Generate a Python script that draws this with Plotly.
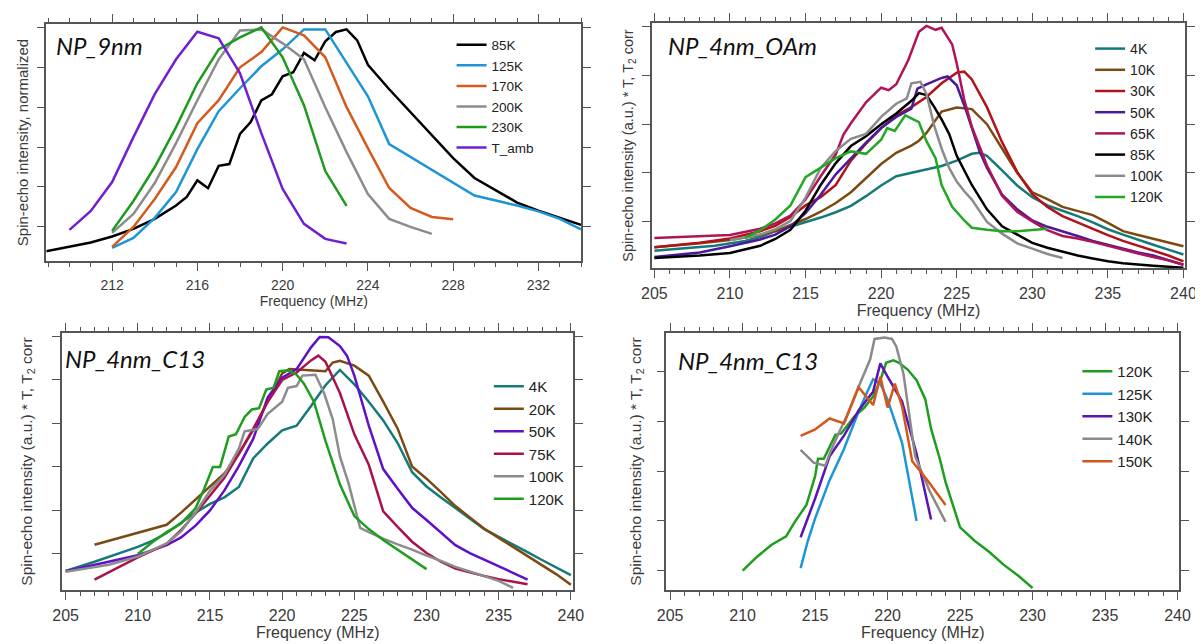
import plotly.graph_objects as go

W, H = 1203, 644

# ---------------- Panel 1 : NP_9nm (normalized) ----------------
p1_names = ["85K", "125K", "170K", "200K", "230K", "T_amb"]
p1_colors = ["#000000", "#1e96d4", "#d45a1e", "#8c8c8c", "#1e9a1e", "#7020d0"]
p1_85K_f = [208.9, 210, 211, 212, 213, 214, 215, 215.5, 216, 216.5, 217, 217.5, 218, 218.5,
            219, 219.5, 220, 220.5, 221, 221.5, 222, 222.5, 223, 223.5, 224, 225, 226, 227,
            228, 229, 230, 231, 232, 233, 234]
p1_85K_y = [-0.122, -0.1, -0.078, -0.048, -0.01, 0.04, 0.107, 0.15, 0.233, 0.194, 0.306, 0.315,
            0.466, 0.525, 0.634, 0.665, 0.755, 0.775, 0.872, 0.835, 0.93, 0.977, 0.99, 0.935,
            0.813, 0.69, 0.575, 0.455, 0.345, 0.245, 0.185, 0.122, 0.081, 0.044, 0.01]
p1_125K_f = list(range(212, 235))
p1_125K_y = [-0.105, -0.055, 0.045, 0.175, 0.39, 0.58, 0.695, 0.805, 0.89, 0.99, 0.99, 0.825,
             0.655, 0.415, 0.35, 0.283, 0.22, 0.157, 0.132, 0.107, 0.078, 0.04, -0.012]
p1_170K_f = list(range(212, 229))
p1_170K_y = [-0.1, 0.0, 0.14, 0.3, 0.52, 0.635, 0.8, 0.876, 1.0, 0.96, 0.85, 0.6, 0.395, 0.195,
             0.095, 0.05, 0.038]
p1_200K_f = list(range(212, 228))
p1_200K_y = [-0.03, 0.065, 0.22, 0.42, 0.635, 0.84, 0.985, 0.99, 0.92, 0.84, 0.6, 0.375, 0.165,
             0.04, 0.0, -0.035]
p1_230K_f = list(range(212, 224))
p1_230K_y = [-0.02, 0.13, 0.3, 0.5, 0.72, 0.89, 0.95, 1.0, 0.85, 0.61, 0.28, 0.105]
p1_Tamb_f = list(range(210, 224))
p1_Tamb_y = [-0.015, 0.08, 0.225, 0.45, 0.665, 0.84, 0.978, 0.945, 0.77, 0.47, 0.19, 0.015,
             -0.06, -0.083]

# ---------------- Panel 2 : NP_4nm_OAm ----------------
p2_names = ["4K", "10K", "30K", "50K", "65K", "85K", "100K", "120K"]
p2_colors = ["#167a78", "#7b4a12", "#b0141a", "#4a1a9a", "#b01457", "#000000", "#8c8c8c", "#22a822"]
p2_4K_f = [205, 207, 209, 211, 212, 213, 214, 215, 216, 217, 218, 219, 220, 221, 222, 223, 224,
           225, 226, 226.5, 227, 228, 229, 230, 231, 232, 233, 234, 235, 236, 237, 238, 239, 240]
p2_4K_y = [0.40, 0.45, 0.50, 0.60, 0.68, 0.80, 0.89, 0.98, 1.08, 1.19, 1.32, 1.52, 1.74, 1.93,
           2.0, 2.06, 2.14, 2.25, 2.39, 2.41, 2.35, 2.05, 1.74, 1.5, 1.33, 1.22, 1.11, 0.98, 0.84,
           0.73, 0.62, 0.52, 0.42, 0.32]
p2_10K_f = [205, 208, 210, 212, 213, 214, 215, 216, 217, 218, 219, 220, 221, 222, 222.5, 223, 224,
            225, 226, 227, 228, 229, 230, 231, 232, 233, 234, 235, 236, 237, 238, 239, 240]
p2_10K_y = [0.47, 0.55, 0.62, 0.72, 0.80, 0.92, 1.05, 1.2, 1.38, 1.6, 1.9, 2.18, 2.41, 2.56, 2.66,
            2.82, 3.26, 3.34, 3.31, 3.0, 2.5, 2.0, 1.6, 1.46, 1.3, 1.22, 1.13, 0.97, 0.8, 0.72,
            0.64, 0.57, 0.49]
p2_30K_f = [205, 208, 210, 212, 213, 214, 215, 216, 217, 218, 219, 220, 221, 222, 223, 224, 225,
            225.5, 226, 227, 228, 229, 230, 231, 232, 233, 234, 235, 236, 237, 238, 239, 240]
p2_30K_y = [0.47, 0.56, 0.65, 0.8, 0.91, 1.09, 1.33, 1.5, 1.75, 2.25, 2.6, 2.92, 3.18, 3.35, 3.56,
            3.84, 4.06, 4.08, 3.92, 3.35, 2.63, 2.02, 1.56, 1.3, 1.11, 0.98, 0.84, 0.72, 0.6, 0.5,
            0.41, 0.3, 0.18]
p2_50K_f = [205, 208, 210, 212, 213, 214, 215, 216, 217, 218, 219, 220, 221, 222, 222.4, 223, 224,
            224.4, 225, 225.6, 226.5, 227, 228, 229, 230, 231, 232, 233, 234, 235, 236, 237, 238,
            239, 240]
p2_50K_y = [0.27, 0.36, 0.49, 0.63, 0.73, 0.9, 1.17, 1.55, 1.97, 2.3, 2.62, 2.92, 3.15, 3.32, 3.73,
            3.82, 3.95, 3.98, 3.8, 3.3, 2.45, 2.1, 1.55, 1.25, 1.02, 0.89, 0.8, 0.7, 0.6, 0.52,
            0.43, 0.36, 0.3, 0.21, 0.11]
p2_65K_f = [205, 208, 210, 212, 213, 214, 215, 216, 217, 217.5, 218, 219, 220, 220.5, 221, 221.8,
            222.5, 223, 223.6, 224, 224.7, 225, 225.5, 226, 227, 228, 229, 230, 231, 232, 233,
            234, 235, 236, 237, 238, 239, 240]
p2_65K_y = [0.66, 0.69, 0.72, 0.85, 0.96, 1.12, 1.45, 1.93, 2.38, 2.78, 3.02, 3.45, 3.75, 3.7,
            3.82, 4.32, 4.9, 5.02, 4.94, 4.98, 4.64, 4.25, 3.5, 2.95, 2.15, 1.53, 1.2, 1.0, 0.82,
            0.7, 0.65, 0.58, 0.5, 0.41, 0.34, 0.27, 0.2, 0.11]
p2_85K_f = [205, 208, 210, 212, 213, 214, 215, 216, 217, 218, 219, 220, 221, 222, 222.5, 223,
            223.5, 224, 224.5, 225, 226, 227, 228, 229, 230, 231, 232, 233, 234, 235, 236, 237,
            238, 239, 240]
p2_85K_y = [0.25, 0.3, 0.35, 0.5, 0.64, 0.83, 1.22, 1.75, 2.2, 2.55, 2.75, 3.0, 3.22, 3.48, 3.64,
            3.6, 3.36, 3.1, 2.8, 2.35, 1.75, 1.25, 0.9, 0.73, 0.56, 0.46, 0.38, 0.3, 0.24, 0.18,
            0.14, 0.11, 0.09, 0.07, 0.05]
p2_100K_f = [210, 211, 212, 213, 214, 215, 216, 217, 218, 219, 220, 221, 221.7, 222, 222.6, 223,
             223.5, 224, 224.5, 225, 225.5, 226, 227, 228, 229, 230, 231, 232]
p2_100K_y = [0.62, 0.67, 0.73, 0.84, 1.01, 1.49, 2.1, 2.45, 2.7, 2.8, 3.15, 3.42, 3.53, 3.84,
             3.87, 3.62, 2.98, 2.5, 2.1, 1.82, 1.62, 1.45, 0.99, 0.75, 0.55, 0.44, 0.33, 0.25]
p2_120K_f = [211, 212, 213, 214, 215, 216, 217, 218, 219, 220, 220.4, 220.9, 221.6, 222, 222.5,
             223, 223.6, 224, 224.7, 225.5, 226, 227, 228, 229, 230, 231]
p2_120K_y = [0.66, 0.82, 1.04, 1.33, 1.91, 2.1, 2.3, 2.44, 2.39, 2.68, 2.92, 2.86, 3.18, 3.12,
             3.04, 2.65, 2.3, 1.75, 1.3, 1.02, 0.87, 0.83, 0.8, 0.8, 0.82, 0.85]

# ---------------- Panel 3 : NP_4nm_C13 (4K-120K) ----------------
p3_names = ["4K", "20K", "50K", "75K", "100K", "120K"]
p3_colors = ["#167a78", "#7b4a12", "#6010c8", "#a8124e", "#8c8c8c", "#1e9e1e"]
p3_4K_f = [205, 207, 210, 211, 212, 213, 214, 215, 216, 217, 218, 219, 220, 221, 222, 223, 224,
           225, 226, 227, 228, 229, 230, 231, 232, 233, 234, 235, 236, 237, 238, 239, 240]
p3_4K_y = [0.61, 0.82, 1.16, 1.3, 1.48, 1.72, 1.95, 2.15, 2.3, 2.54, 3.2, 3.54, 3.84, 3.95, 4.4,
           4.88, 5.23, 4.9, 4.5, 4.07, 3.55, 2.88, 2.55, 2.3, 2.05, 1.8, 1.57, 1.39, 1.22, 1.04,
           0.86, 0.69, 0.51]
p3_20K_f = [207, 208, 209, 210, 211, 212, 213, 214, 215, 216, 217, 218, 219, 220, 220.5, 222,
            223, 223.5, 224, 225, 226, 227, 228, 229, 230, 231, 232, 233, 234, 235, 236, 237, 238,
            239, 240]
p3_20K_y = [1.21, 1.3, 1.4, 1.49, 1.58, 1.67, 1.95, 2.25, 2.55, 2.85, 3.3, 3.85, 4.5, 5.15, 5.25,
            5.23, 5.2, 5.4, 5.44, 5.33, 5.1, 4.5, 3.88, 3.01, 2.73, 2.42, 2.1, 1.84, 1.58, 1.37,
            1.16, 0.96, 0.76, 0.53, 0.29]
p3_50K_f = [205, 207, 210, 212, 213, 214, 215, 216, 217, 218, 219, 220, 221, 222, 222.6, 223.2,
            224, 224.5, 225, 226, 227, 228, 229, 230, 231, 232, 233, 234, 235, 236, 237]
p3_50K_y = [0.6, 0.75, 0.97, 1.2, 1.38, 1.65, 2.0, 2.46, 3.02, 3.65, 4.6, 5.05, 5.25, 5.75, 5.99,
            5.98, 5.78, 5.55, 5.1, 3.95, 2.95, 2.5, 2.06, 1.78, 1.5, 1.2, 1.02, 0.87, 0.71, 0.56,
            0.41]
p3_75K_f = [207, 210, 212, 213, 214, 215, 216, 217, 218, 219, 220, 221, 222, 222.5, 223, 224, 225,
            226, 227, 228, 229, 230, 231, 232, 233, 234, 235, 236, 237]
p3_75K_y = [0.41, 0.92, 1.23, 1.55, 1.93, 2.33, 2.75, 3.3, 3.88, 4.5, 5.0, 5.17, 5.45, 5.56, 5.42,
            4.7, 3.75, 3.05, 1.98, 1.62, 1.28, 1.02, 0.82, 0.66, 0.57, 0.49, 0.42, 0.36, 0.3]
p3_100K_f = [205, 208, 210, 212, 213, 214, 215, 216, 217, 217.4, 218.3, 219, 220, 220.4, 221,
             221.4, 222.3, 222.9, 223.5, 224, 224.6, 225.4, 226, 227, 228, 229, 230, 231, 232,
             233, 234, 235, 236]
p3_100K_y = [0.59, 0.75, 0.94, 1.24, 1.52, 1.95, 2.45, 2.82, 3.42, 3.82, 3.87, 4.22, 4.5, 4.82,
             4.86, 5.1, 5.12, 4.7, 4.1, 3.24, 2.62, 1.6, 1.5, 1.35, 1.22, 1.1, 0.96, 0.84, 0.7,
             0.6, 0.49, 0.38, 0.22]
p3_120K_f = [210, 211, 212, 213, 214, 214.6, 215.2, 215.7, 216.3, 216.8, 217.4, 217.9, 218.4,
             218.9, 219.4, 219.8, 220.4, 221, 221.5, 222.2, 223, 224, 225, 226, 227, 228, 229, 230]
p3_120K_y = [1.0, 1.27, 1.5, 1.7, 2.05, 2.5, 3.0, 3.0, 3.7, 3.75, 4.15, 4.32, 4.35, 4.78, 4.82,
             5.2, 5.22, 5.12, 4.92, 4.5, 3.6, 2.6, 1.87, 1.57, 1.32, 1.1, 0.88, 0.65]

# ---------------- Panel 4 : NP_4nm_C13 (120K-150K) ----------------
p4_names = ["120K", "125K", "130K", "140K", "150K"]
p4_colors = ["#1e9e1e", "#1e96d4", "#5a14b4", "#8a8a8a", "#d4561a"]
p4_120K_f = [210, 211, 212, 213, 213.6, 214.4, 215, 215.2, 215.6, 216.4, 216.8, 217.7, 218.4, 219,
             219.5, 219.9, 220.4, 220.8, 221.4, 222, 222.6, 223, 223.6, 224, 225, 226, 227, 228,
             229, 230]
p4_120K_y = [1.0, 1.28, 1.52, 1.69, 1.98, 2.32, 2.9, 3.25, 3.25, 3.73, 3.76, 4.1, 4.28, 4.5, 4.83,
             5.18, 5.23, 5.18, 5.04, 4.83, 4.45, 3.85, 3.25, 2.78, 1.87, 1.6, 1.38, 1.12, 0.9, 0.65]
p4_125K_f = [214, 214.5, 215, 216, 217, 218, 218.6, 219, 219.5, 220, 221, 222]
p4_125K_y = [1.05, 1.6, 2.05, 2.82, 3.45, 4.2, 4.6, 4.85, 4.76, 4.44, 3.57, 2.0]
p4_130K_f = [214, 215, 216, 217, 218, 219, 219.5, 220, 221, 222, 223]
p4_130K_y = [1.67, 2.45, 3.3, 3.72, 4.22, 4.6, 5.17, 4.9, 4.4, 3.35, 2.03]
p4_140K_f = [214, 214.9, 215.7, 216, 216.6, 217.2, 218, 218.8, 219.1, 219.8, 220.3, 220.6, 221.1,
             221.5, 221.9, 222.9, 224]
p4_140K_y = [3.43, 3.17, 3.11, 3.35, 3.75, 4.12, 4.7, 5.25, 5.66, 5.69, 5.66, 5.51, 4.95, 4.1,
             3.3, 2.6, 1.98]
p4_150K_f = [214, 214.5, 215, 216, 217, 218, 219, 219.5, 220, 220.5, 221, 221.7, 222.8, 224]
p4_150K_y = [3.71, 3.78, 3.84, 4.06, 3.96, 4.69, 4.33, 4.9, 4.28, 4.76, 4.3, 3.2, 2.8, 2.32]

panel_titles = ["NP_9nm", "NP_4nm_OAm", "NP_4nm_C13", "NP_4nm_C13"]
ytitle_norm = "Spin-echo intensity, normalized"
ytitle_corr = "Spin-echo intensity (a.u.) * T, T<sub>2</sub> corr"
xtitle = "Frequency (MHz)"

panels = [
    (p1_names, p1_colors, [(p1_85K_f, p1_85K_y), (p1_125K_f, p1_125K_y), (p1_170K_f, p1_170K_y),
                           (p1_200K_f, p1_200K_y), (p1_230K_f, p1_230K_y), (p1_Tamb_f, p1_Tamb_y)]),
    (p2_names, p2_colors, [(p2_4K_f, p2_4K_y), (p2_10K_f, p2_10K_y), (p2_30K_f, p2_30K_y),
                           (p2_50K_f, p2_50K_y), (p2_65K_f, p2_65K_y), (p2_85K_f, p2_85K_y),
                           (p2_100K_f, p2_100K_y), (p2_120K_f, p2_120K_y)]),
    (p3_names, p3_colors, [(p3_4K_f, p3_4K_y), (p3_20K_f, p3_20K_y), (p3_50K_f, p3_50K_y),
                           (p3_75K_f, p3_75K_y), (p3_100K_f, p3_100K_y), (p3_120K_f, p3_120K_y)]),
    (p4_names, p4_colors, [(p4_120K_f, p4_120K_y), (p4_125K_f, p4_125K_y), (p4_130K_f, p4_130K_y),
                           (p4_140K_f, p4_140K_y), (p4_150K_f, p4_150K_y)]),
]

# ---------------- layout geometry (pixels) ----------------
# frame boxes: (left, right, top, bottom)
boxes = [(28, 573, 16, 253), (645, 1189, 15, 260), (44, 565, 325, 582), (660, 1183, 325, 582)]
xranges = [[208.92, 234.0], [204.82, 240.12], [204.76, 240.16], [204.74, 240.13]]
yranges = [[-0.171, 1.017], [0.043, 5.08], [0.17, 6.08], [0.61, 5.78]]
ytickvals = [[0, 0.2, 0.4, 0.6, 0.8, 1.0], [1, 2, 3, 4, 5], [1, 2, 3, 4, 5, 6], [1, 2, 3, 4, 5]]
xdticks = [(4, 212), (5, 205), (5, 205), (5, 205)]
tickfs = [14, 16, 16, 16]
ytitle_fs = [15, 14.5, 15.5, 15.5]
ytitle_standoff = [4, 5, 16, 11]
legend_pos = [(441, 21.5, 13.5), (1092, 25, 14), (479, 362, 15), (1079, 347, 15)]
title_pos = [(36, 38), (660, 38), (45, 351), (670, 352)]

AX = "#555555"
TXT = "#3a3a3a"
FONT = "Liberation Sans, Arial, sans-serif"

fig = go.Figure()
layout = dict(width=W, height=H, margin=dict(l=0, r=0, t=0, b=0),
              paper_bgcolor="white", plot_bgcolor="white", showlegend=True,
              font=dict(family=FONT, color=TXT))
annotations = []

for i, (names, colors, series) in enumerate(panels):
    k = "" if i == 0 else str(i + 1)
    L, R, T, B = boxes[i]
    for name, color, (fx, fy) in zip(names, colors, series):
        fig.add_trace(go.Scatter(x=fx, y=fy, mode="lines", name=name,
                                 line=dict(color=color, width=2.5),
                                 xaxis="x" + k, yaxis="y" + k,
                                 legend="legend" + k))
    dt, t0 = xdticks[i]
    layout["xaxis" + k] = dict(
        domain=[L / W, R / W], range=xranges[i], anchor="y" + k,
        showline=True, linecolor=AX, linewidth=1.5, mirror="allticks",
        ticks="outside", ticklen=8, tickwidth=1.2, tickcolor=AX,
        tick0=t0, dtick=dt, showgrid=False, zeroline=False,
        minor=dict(tick0=t0, dtick=1, ticks="outside", ticklen=4, tickwidth=1,
                   tickcolor=AX, showgrid=False),
        tickfont=dict(size=tickfs[i], color=TXT, family=FONT),
        ticklabelstandoff=2,
        title=dict(text=xtitle, font=dict(size=tickfs[i], color=TXT, family=FONT),
                   standoff=0),
    )
    layout["yaxis" + k] = dict(
        domain=[1 - B / H, 1 - T / H], range=yranges[i], anchor="x" + k,
        showline=True, linecolor=AX, linewidth=1.5, mirror="allticks",
        ticks="outside", ticklen=8, tickwidth=1.2, tickcolor=AX,
        tickvals=ytickvals[i], showticklabels=False, showgrid=False, zeroline=False,
        title=dict(text=ytitle_norm if i == 0 else ytitle_corr,
                   font=dict(size=ytitle_fs[i], color=TXT, family=FONT),
                   standoff=ytitle_standoff[i]),
    )
    lx, ly, lfs = legend_pos[i]
    layout["legend" + k] = dict(
        x=lx / W, y=1 - ly / H, xanchor="left", yanchor="top",
        bgcolor="rgba(0,0,0,0)", borderwidth=0, tracegroupgap=0,
        font=dict(size=lfs, color="#222222", family=FONT),
    )
    tx, ty = title_pos[i]
    annotations.append(dict(
        text=panel_titles[i], xref="paper", yref="paper", x=tx / W, y=1 - ty / H,
        xanchor="left", yanchor="middle", showarrow=False,
        font=dict(family="Lato, Carlito, sans-serif", size=24, color="#111111", style="italic"),
    ))

layout["annotations"] = annotations
fig.update_layout(**layout)
fig.write_html("out.html")
